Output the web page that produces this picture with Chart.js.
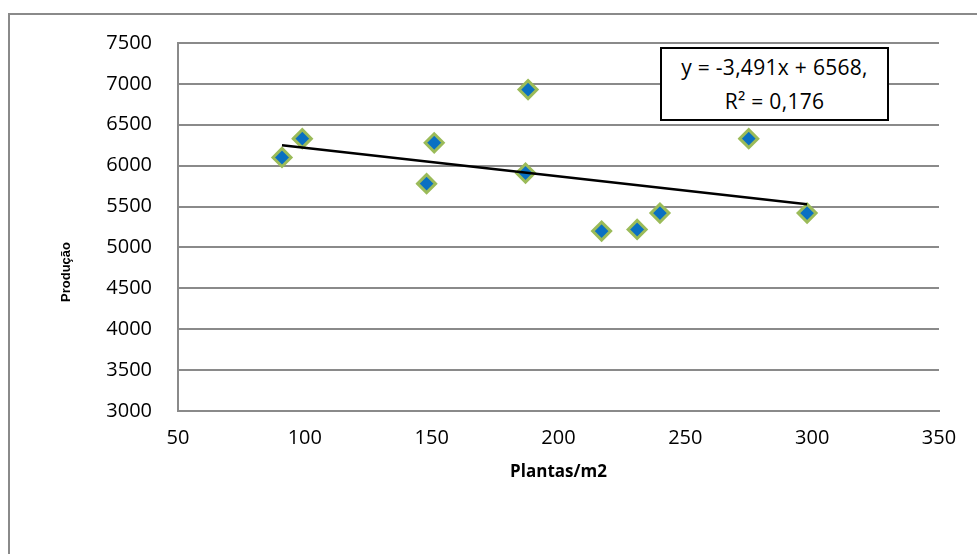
<!DOCTYPE html>
<html>
<head>
<meta charset="utf-8">
<script src="https://cdn.jsdelivr.net/npm/chart.js@4.4.1/dist/chart.umd.min.js"></script>
<style>
    html, body { margin: 0; padding: 0; background: #fff; overflow: hidden; }
    #wrap { position: relative; width: 977px; height: 554px; }
    #frame {
        position: absolute; left: 8px; top: 13px; width: 1100px; height: 700px;
        border: 2px solid #8a8a8a; box-sizing: border-box;
    }
    #chartBox { position: absolute; left: 0; top: 0; width: 977px; height: 554px; }
    #eqBox {
        position: absolute; left: 660px; top: 47px; width: 229px; height: 74px;
        border: 2px solid #000; background: #fff; box-sizing: border-box;
        font-family: 'Open Sans', sans-serif; font-size: 21px; color: #000;
        text-align: center; line-height: 34px; padding-top: 1px; letter-spacing: 0.3px;
        white-space: nowrap;
    }
</style>
</head>
<body>
<div id="wrap">
    <div id="frame"></div>
    <div id="chartBox"><canvas id="scatterChart"></canvas></div>
    <div id="eqBox">y = -3,491x + 6568,<br>R² = 0,176</div>
</div>
<script>
// Plantas/m2 vs yield
const plantas = [91, 99, 151, 148, 188, 187, 275, 217, 231, 240, 298];
const producao = [6100, 6330, 6280, 5780, 6930, 5910, 6330, 5200, 5220, 5420, 5420];

// Linear trendline end points (y = -3,491x + 6568)
const trendX = [91, 298];
const trendY = [6250, 5527];

const xTitle = 'Plantas/m2';
const yTitle = 'Produção';

// y title sits a bit below the middle of the axis in the original
const yTitlePlugin = {
    id: 'yTitlePlugin',
    afterDraw: function(chart) {
        const c = chart.ctx;
        c.save();
        c.translate(66, 272);
        c.rotate(-Math.PI / 2);
        c.font = "bold 13px 'Liberation Sans Narrow', sans-serif";
        c.fillStyle = '#000';
        c.textAlign = 'center';
        c.textBaseline = 'middle';
        c.fillText(yTitle, 0, 0);
        c.restore();
    }
};

document.addEventListener('DOMContentLoaded', function() {
    const gridGray = '#8a8a8a';
    const tickFont = { family: "'Open Sans', sans-serif", size: 20 };

    const points = plantas.map((x, i) => ({ x: x, y: producao[i] }));
    const trend = trendX.map((x, i) => ({ x: x, y: trendY[i] }));

    const ctx = document.getElementById('scatterChart').getContext('2d');
    window.scatterChart = new Chart(ctx, {
        type: 'scatter',
        data: {
            datasets: [
                {
                    type: 'line',
                    label: 'Tendência',
                    data: trend,
                    borderColor: '#000',
                    borderWidth: 2.5,
                    pointRadius: 0,
                    fill: false
                },
                {
                    label: 'Produção',
                    data: points,
                    pointStyle: 'rectRot',
                    pointRadius: 9,
                    pointHoverRadius: 9,
                    backgroundColor: '#0a70c2',
                    borderColor: '#9bbb59',
                    borderWidth: 3
                }
            ]
        },
        options: {
            responsive: true,
            maintainAspectRatio: false,
            animation: false,
            layout: {
                padding: { left: 0, top: 43, right: 38, bottom: 0 }
            },
            plugins: {
                legend: { display: false },
                tooltip: { enabled: false }
            },
            scales: {
                x: {
                    type: 'linear',
                    min: 50,
                    max: 350,
                    ticks: {
                        stepSize: 50,
                        color: '#000',
                        font: tickFont,
                        padding: 15,
                        callback: v => String(v)
                    },
                    grid: { display: true, color: 'rgba(0,0,0,0)', drawTicks: false },
                    border: { display: true, color: gridGray, width: 2 },
                    title: {
                        display: true,
                        text: xTitle,
                        color: '#000',
                        font: { family: "'Open Sans', sans-serif", size: 17, weight: 'bold' },
                        padding: { top: 0, bottom: 72 }
                    },
                    afterFit: function(scale) { scale.height = 143; }
                },
                y: {
                    type: 'linear',
                    min: 3000,
                    max: 7500,
                    ticks: {
                        stepSize: 500,
                        color: '#000',
                        font: tickFont,
                        padding: 26,
                        callback: v => String(v)
                    },
                    grid: { color: gridGray, lineWidth: 2, drawTicks: false },
                    border: { display: true, color: gridGray, width: 2 },
                    afterFit: function(scale) { scale.width = 178; }
                }
            }
        },
        plugins: [yTitlePlugin]
    });
});
</script>
</body>
</html>
